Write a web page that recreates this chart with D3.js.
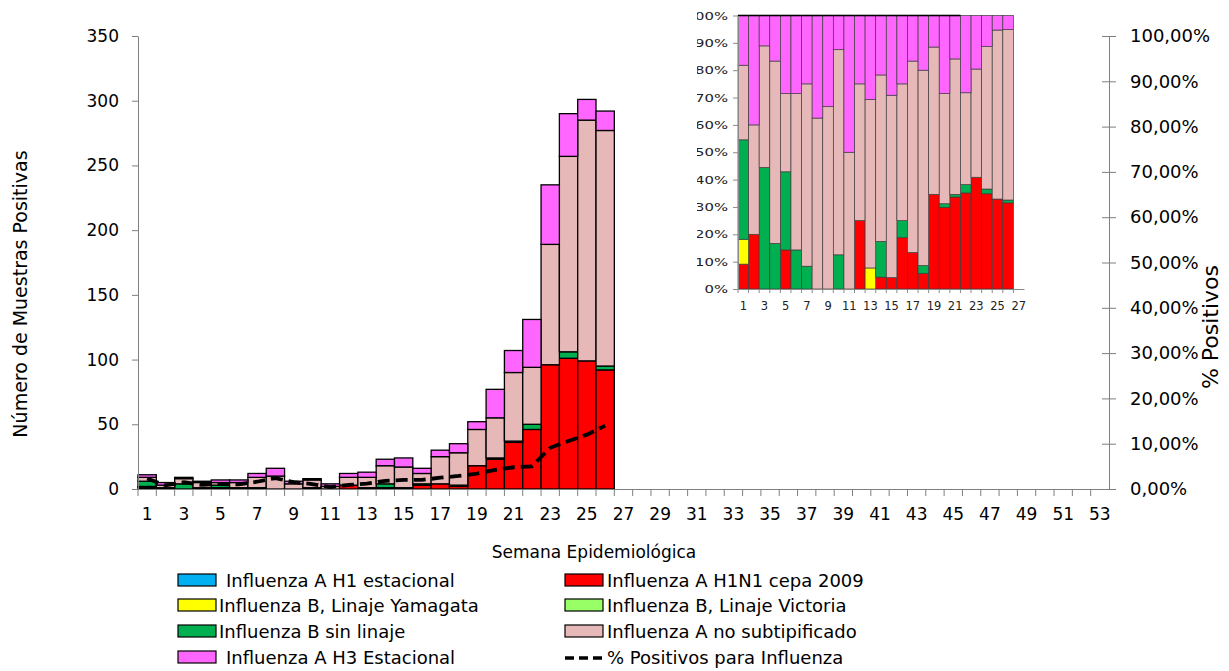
<!DOCTYPE html>
<html>
<head>
<meta charset="utf-8">
<script src="https://cdn.jsdelivr.net/npm/d3@7"></script>
<style>
  body { margin: 0; background: #fff; }
  svg { display: block; font-family: "DejaVu Sans", Verdana, sans-serif; }
</style>
</head>
<body>
<svg id="chart" width="1229" height="671"></svg>
<script>
// Epidemiological weeks on the axis and weeks with reported data
const allWeeks = d3.range(1, 54);
const dataWeeks = d3.range(1, 27);

// Positive samples per week, by virus type
const h1Estacional = [0,0,0,0,0,0,0,0,0,0,0,0,0,0,0,0,0,0,0,0,0,null,null,null,null,null];
const h1n1Cepa2009 = [1,1,0,0,1,0,0,0,0,0,0,3,0,1,1,3,4,2,18,23,36,46,96,101,99,92];
const bYamagata    = [1,0,0,0,0,0,0,0,0,0,0,0,1,0,0,0,0,0,0,0,0,0,0,0,0,0];
const bVictoria    = [0,0,0,0,0,0,0,0,0,0,0,0,0,0,0,0,0,0,0,0,0,0,0,0,0,0];
const bSinLinaje   = [4,0,4,1,2,1,1,0,0,1,0,0,0,3,0,1,0,1,0,1,1,4,0,5,0,3];
const aNoSubtip    = [3,2,4,4,2,4,8,10,4,6,2,6,8,14,16,8,21,25,28,31,53,44,93,151,186,182];
const h3Estacional = [2,2,1,1,2,2,3,6,2,1,2,3,4,5,7,4,5,7,6,22,17,37,46,33,16,15];

// Percentage of samples positive for influenza
const pctPositivos = [2.3,0.8,1.5,0.9,1.1,1.0,1.6,2.4,1.5,1.1,0.4,0.9,1.2,1.8,2.0,2.0,2.5,2.9,3.4,4.2,4.8,5.0,9.1,10.6,12.0,14.0];

// Axis ticks
const countTicks = [0, 50, 100, 150, 200, 250, 300, 350];
const pctTicks = [0, 10, 20, 30, 40, 50, 60, 70, 80, 90, 100];

// Series: key, legend label, fill
const series = [
  { key: "h1e",  label: "Influenza A H1 estacional",     color: "#00B0F0" },
  { key: "h1n1", label: "Influenza A H1N1 cepa 2009",    color: "#FF0000" },
  { key: "yam",  label: "Influenza B, Linaje Yamagata",  color: "#FFFF00" },
  { key: "vic",  label: "Influenza B, Linaje Victoria",  color: "#99FF66" },
  { key: "bsl",  label: "Influenza B sin linaje",        color: "#00B050" },
  { key: "ans",  label: "Influenza A no subtipificado",  color: "#E6B9B8" },
  { key: "h3",   label: "Influenza A H3 Estacional",     color: "#FF66FF" }
];
const colorOf = Object.fromEntries(series.map(s => [s.key, s.color]));

const rows = dataWeeks.map((w, i) => ({
  week: w,
  h1e: h1Estacional[i] || 0,
  h1eRaw: h1Estacional[i],
  h1n1: h1n1Cepa2009[i],
  yam: bYamagata[i],
  vic: bVictoria[i],
  bsl: bSinLinaje[i],
  ans: aNoSubtip[i],
  h3: h3Estacional[i],
  pct: pctPositivos[i]
}));

// Stacking order, bottom to top
const stackKeys = ["h1n1", "yam", "vic", "bsl", "ans", "h3", "h1e"];

const svg = d3.select("#chart");

// ---------- Main chart ----------
const M = { left: 138, right: 1109, top: 36, bottom: 489 };
const x = d3.scaleBand().domain(allWeeks).range([M.left, M.right]).padding(0);
const y = d3.scaleLinear().domain([0, 350]).range([M.bottom, M.top]);
const yPct = d3.scaleLinear().domain([0, 100]).range([M.bottom, M.top]);
const axisColor = "#7f7f7f";

const stacked = d3.stack().keys(stackKeys)(rows);

const bars = svg.append("g");
stacked.forEach(layer => {
  bars.append("g")
    .attr("fill", colorOf[layer.key])
    .selectAll("rect")
    .data(layer.filter(d => d[1] - d[0] > 0))
    .join("rect")
    .attr("x", d => x(d.data.week))
    .attr("width", x.bandwidth())
    .attr("y", d => y(d[1]))
    .attr("height", d => y(d[0]) - y(d[1]))
    .attr("stroke", "#000")
    .attr("stroke-width", 1.3);
});

// Left axis
const gLeft = svg.append("g")
  .attr("transform", `translate(${M.left},0)`)
  .call(d3.axisLeft(y).tickValues(countTicks).tickSize(6).tickSizeOuter(0).tickPadding(13));
gLeft.select(".domain").attr("stroke", axisColor);
gLeft.selectAll(".tick line").attr("stroke", axisColor);
gLeft.selectAll("text").attr("font-size", 17).attr("fill", "#000")
  .attr("font-family", "DejaVu Sans, Verdana, sans-serif");

// Right axis
const gRight = svg.append("g")
  .attr("transform", `translate(${M.right},0)`)
  .call(d3.axisRight(yPct).tickValues(pctTicks).tickSize(7).tickSizeOuter(0)
    .tickFormat(d => d.toFixed(2).replace(".", ",") + "%"));
gRight.select(".domain").attr("stroke", axisColor);
gRight.selectAll(".tick line").attr("stroke", axisColor).attr("x1", -7).attr("x2", 7);
gRight.selectAll("text").attr("x", 21).attr("font-size", 18).attr("fill", "#000")
  .attr("font-family", "DejaVu Sans, Verdana, sans-serif");

// Bottom axis: labels on odd weeks, ticks on week boundaries
const gBottom = svg.append("g")
  .attr("transform", `translate(0,${M.bottom})`)
  .call(d3.axisBottom(x).tickSize(0).tickSizeOuter(0).tickPadding(19)
    .tickFormat(w => (w % 2 === 1 ? w : "")));
gBottom.select(".domain").attr("stroke", axisColor);
gBottom.selectAll("text").attr("font-size", 17).attr("fill", "#000")
  .attr("font-family", "DejaVu Sans, Verdana, sans-serif");
gBottom.append("g").selectAll("line")
  .data(allWeeks)
  .join("line")
  .attr("x1", w => x(w)).attr("x2", w => x(w))
  .attr("y1", 0).attr("y2", 7)
  .attr("stroke", axisColor);

// Percent positive line
svg.append("path")
  .datum(rows)
  .attr("fill", "none")
  .attr("stroke", "#000")
  .attr("stroke-width", 3.8)
  .attr("stroke-dasharray", "12,6")
  .attr("d", d3.line().x(d => x(d.week) + x.bandwidth() / 2).y(d => yPct(d.pct)));

// Axis titles
svg.append("text")
  .attr("transform", "translate(27,294) rotate(-90)")
  .attr("text-anchor", "middle").attr("font-size", 19)
  .text("Número de Muestras Positivas");
svg.append("text")
  .attr("transform", "translate(1218,327) rotate(-90)")
  .attr("text-anchor", "middle").attr("font-size", 22)
  .text("% Positivos");
svg.append("text")
  .attr("x", 594).attr("y", 558)
  .attr("text-anchor", "middle").attr("font-size", 17)
  .text("Semana Epidemiológica");

// ---------- Legend ----------
const legendItems = [
  { key: "h1e",  col: 0, row: 0, tx: 226 },
  { key: "yam",  col: 0, row: 1, tx: 219 },
  { key: "bsl",  col: 0, row: 2, tx: 219 },
  { key: "h3",   col: 0, row: 3, tx: 226 },
  { key: "h1n1", col: 1, row: 0, tx: 607 },
  { key: "vic",  col: 1, row: 1, tx: 607 },
  { key: "ans",  col: 1, row: 2, tx: 607 },
  { key: "line", col: 1, row: 3, tx: 607 }
];
const rowY = [580, 605, 631, 657];
const colX = [178, 565];
const legend = svg.append("g");
legendItems.forEach(it => {
  const cy = rowY[it.row];
  const sx = colX[it.col];
  if (it.key === "line") {
    legend.append("line")
      .attr("x1", sx).attr("x2", sx + 38).attr("y1", cy + 1).attr("y2", cy + 1)
      .attr("stroke", "#000").attr("stroke-width", 3.5).attr("stroke-dasharray", "9,5");
    legend.append("text").attr("x", it.tx).attr("y", cy + 7).attr("font-size", 18)
      .text("% Positivos para Influenza");
  } else {
    const s = series.find(d => d.key === it.key);
    legend.append("rect")
      .attr("x", sx).attr("y", cy - 6).attr("width", 38).attr("height", 12)
      .attr("fill", s.color).attr("stroke", "#000").attr("stroke-width", 1.2);
    legend.append("text").attr("x", it.tx).attr("y", cy + 7).attr("font-size", 18)
      .text(s.label);
  }
});

// ---------- Inset: share of each type per week ----------
const I = { left: 738, right: 1024, top: 15.5, bottom: 289, clipLeft: 697 };
svg.append("clipPath").attr("id", "insetClip")
  .append("rect").attr("x", I.clipLeft).attr("y", 0).attr("width", 1229 - I.clipLeft).attr("height", 330);
const inset = svg.append("g").attr("clip-path", "url(#insetClip)");

const xi = d3.scaleBand().domain(d3.range(1, 28)).range([I.left, I.right]).padding(0);
const yi = d3.scaleLinear().domain([0, 1]).range([I.bottom, I.top]);
const stackedPct = d3.stack().keys(stackKeys).offset(d3.stackOffsetExpand)(rows);

stackedPct.forEach(layer => {
  if (layer.key === "h1e") return;
  inset.append("g")
    .attr("fill", colorOf[layer.key])
    .selectAll("rect")
    .data(layer.filter(d => d[1] - d[0] > 0))
    .join("rect")
    .attr("x", d => xi(d.data.week))
    .attr("width", xi.bandwidth())
    .attr("y", d => yi(d[1]))
    .attr("height", d => yi(d[0]) - yi(d[1]))
    .attr("stroke", "#3c3c3c")
    .attr("stroke-width", 0.7);
});
// Zero-valued H1 estacional segments sit on top of the stack as a dark edge
inset.append("g").selectAll("line")
  .data(rows.filter(r => r.h1eRaw === 0))
  .join("line")
  .attr("x1", d => xi(d.week)).attr("x2", d => xi(d.week) + xi.bandwidth())
  .attr("y1", yi(1)).attr("y2", yi(1))
  .attr("stroke", "#000").attr("stroke-width", 1.6);

const insetAxisColor = "#8a8a8a";
const giLeft = inset.append("g")
  .attr("transform", `translate(${I.left},0)`)
  .call(d3.axisLeft(yi).tickValues(pctTicks.map(d => d / 100)).tickSize(5).tickSizeOuter(0)
    .tickFormat(d => Math.round(d * 100) + "%"));
giLeft.select(".domain").attr("stroke", insetAxisColor);
giLeft.selectAll(".tick line").attr("stroke", insetAxisColor);
giLeft.selectAll("text").attr("font-size", 11).attr("fill", "#222")
  .attr("font-family", "DejaVu Sans, Verdana, sans-serif")
  .attr("x", -7.4).attr("transform", "scale(1.35,1)");

const giBottom = inset.append("g")
  .attr("transform", `translate(0,${I.bottom})`)
  .call(d3.axisBottom(xi).tickSize(0).tickSizeOuter(0).tickPadding(13)
    .tickFormat(w => (w % 2 === 1 ? w : "")));
giBottom.select(".domain").attr("stroke", insetAxisColor);
giBottom.selectAll("text").attr("font-size", 11.5).attr("fill", "#222")
  .attr("font-family", "DejaVu Sans, Verdana, sans-serif");
giBottom.append("g").selectAll("line")
  .data(d3.range(1, 28))
  .join("line")
  .attr("x1", w => xi(w)).attr("x2", w => xi(w))
  .attr("y1", 0).attr("y2", 4)
  .attr("stroke", insetAxisColor);
</script>
</body>
</html>
